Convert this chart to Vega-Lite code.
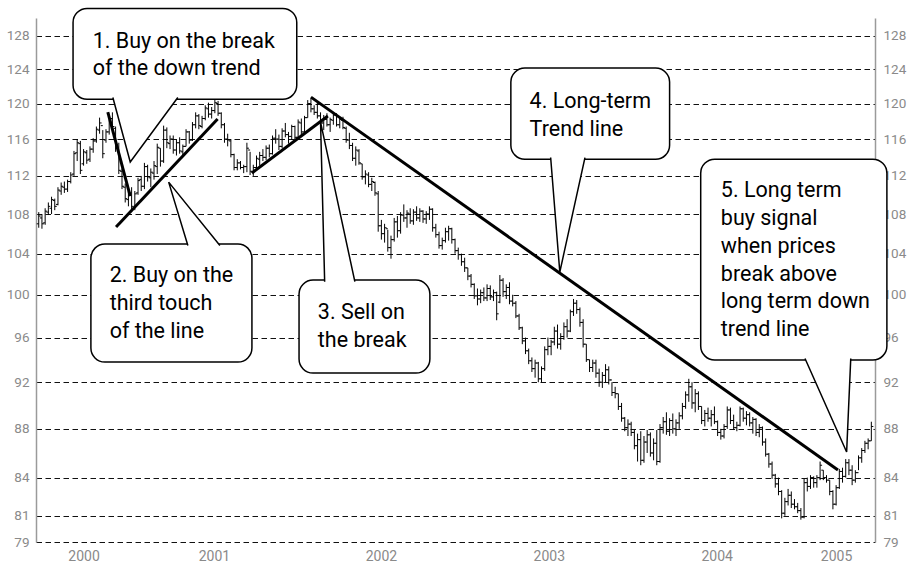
{
  "$schema": "https://vega.github.io/schema/vega-lite/v6.json",
  "width": 839,
  "height": 524,
  "autosize": {"type": "none"},
  "padding": {"left": 36, "top": 18, "right": 32, "bottom": 21},
  "background": "white",
  "config": {
    "view": {"stroke": null},
    "font": "Roboto"
  },
  "datasets": {
    "bars": [
      {"d":"2000-06-09","o":107.0,"h":108.2,"l":106.6,"c":107.8},
      {"d":"2000-06-16","o":107.6,"h":108.0,"l":106.5,"c":107.0},
      {"d":"2000-06-23","o":107.1,"h":108.6,"l":106.9,"c":108.3},
      {"d":"2000-06-30","o":108.2,"h":109.2,"l":107.9,"c":108.8},
      {"d":"2000-07-07","o":108.6,"h":109.8,"l":108.0,"c":109.5},
      {"d":"2000-07-14","o":109.4,"h":109.6,"l":108.4,"c":108.8},
      {"d":"2000-07-21","o":109.0,"h":110.8,"l":108.9,"c":110.5},
      {"d":"2000-07-28","o":110.4,"h":111.3,"l":110.0,"c":110.9},
      {"d":"2000-08-04","o":110.8,"h":111.4,"l":110.2,"c":110.6},
      {"d":"2000-08-11","o":110.6,"h":111.6,"l":110.3,"c":111.4},
      {"d":"2000-08-18","o":111.4,"h":112.4,"l":111.2,"c":112.1},
      {"d":"2000-08-25","o":112.2,"h":114.7,"l":112.0,"c":114.4},
      {"d":"2000-09-01","o":114.5,"h":116.0,"l":113.6,"c":115.6},
      {"d":"2000-09-08","o":115.5,"h":115.8,"l":112.2,"c":112.6},
      {"d":"2000-09-15","o":113.3,"h":114.9,"l":113.1,"c":114.6},
      {"d":"2000-09-22","o":114.5,"h":114.8,"l":113.3,"c":113.7},
      {"d":"2000-09-29","o":113.8,"h":115.2,"l":113.5,"c":114.9},
      {"d":"2000-10-06","o":114.9,"h":116.1,"l":114.5,"c":115.8},
      {"d":"2000-10-13","o":115.8,"h":117.4,"l":115.6,"c":117.1},
      {"d":"2000-10-20","o":117.0,"h":118.4,"l":116.6,"c":117.8},
      {"d":"2000-10-27","o":117.5,"h":117.0,"l":113.9,"c":114.4},
      {"d":"2000-11-03","o":115.9,"h":117.1,"l":115.6,"c":116.8},
      {"d":"2000-11-10","o":116.8,"h":118.7,"l":116.5,"c":118.2},
      {"d":"2000-11-17","o":118.3,"h":119.0,"l":117.0,"c":117.4},
      {"d":"2000-11-24","o":117.2,"h":117.4,"l":114.6,"c":115.0},
      {"d":"2000-12-01","o":115.1,"h":115.6,"l":112.2,"c":112.6},
      {"d":"2000-12-08","o":112.5,"h":112.8,"l":110.6,"c":110.9},
      {"d":"2000-12-15","o":110.8,"h":111.2,"l":109.2,"c":109.6},
      {"d":"2000-12-22","o":109.5,"h":110.4,"l":108.8,"c":110.0},
      {"d":"2000-12-29","o":110.2,"h":110.8,"l":108.2,"c":108.8},
      {"d":"2001-01-05","o":108.6,"h":110.4,"l":108.4,"c":110.1},
      {"d":"2001-01-12","o":110.2,"h":111.8,"l":110.0,"c":111.5},
      {"d":"2001-01-19","o":111.6,"h":112.0,"l":110.4,"c":110.9},
      {"d":"2001-01-26","o":110.9,"h":113.4,"l":110.6,"c":113.0},
      {"d":"2001-02-02","o":113.0,"h":113.2,"l":111.4,"c":111.9},
      {"d":"2001-02-09","o":111.8,"h":112.8,"l":110.8,"c":112.4},
      {"d":"2001-02-16","o":112.3,"h":113.6,"l":111.6,"c":113.1},
      {"d":"2001-02-23","o":113.0,"h":115.5,"l":112.2,"c":115.1},
      {"d":"2001-03-02","o":115.0,"h":115.0,"l":113.0,"c":113.6},
      {"d":"2001-03-09","o":113.6,"h":117.5,"l":113.4,"c":117.0},
      {"d":"2001-03-16","o":117.0,"h":117.3,"l":115.0,"c":115.6},
      {"d":"2001-03-23","o":115.5,"h":116.4,"l":114.9,"c":116.0},
      {"d":"2001-03-30","o":116.0,"h":116.4,"l":114.4,"c":114.8},
      {"d":"2001-04-06","o":114.8,"h":115.9,"l":114.2,"c":115.6},
      {"d":"2001-04-13","o":115.6,"h":116.2,"l":114.4,"c":114.7},
      {"d":"2001-04-20","o":114.6,"h":115.4,"l":114.2,"c":115.2},
      {"d":"2001-04-27","o":115.2,"h":117.1,"l":115.2,"c":116.8},
      {"d":"2001-05-04","o":116.8,"h":116.9,"l":115.5,"c":115.9},
      {"d":"2001-05-11","o":115.9,"h":117.9,"l":115.8,"c":117.6},
      {"d":"2001-05-18","o":117.6,"h":119.0,"l":117.2,"c":118.6},
      {"d":"2001-05-25","o":118.6,"h":118.8,"l":117.1,"c":117.5},
      {"d":"2001-06-01","o":117.4,"h":118.6,"l":117.2,"c":118.3},
      {"d":"2001-06-08","o":118.3,"h":119.8,"l":118.1,"c":119.5},
      {"d":"2001-06-15","o":119.4,"h":120.1,"l":118.4,"c":118.8},
      {"d":"2001-06-22","o":118.8,"h":119.6,"l":118.3,"c":119.2},
      {"d":"2001-06-29","o":119.2,"h":120.5,"l":118.9,"c":120.1},
      {"d":"2001-07-06","o":120.0,"h":120.3,"l":118.6,"c":118.9},
      {"d":"2001-07-13","o":118.9,"h":119.0,"l":117.2,"c":117.6},
      {"d":"2001-07-20","o":117.6,"h":117.8,"l":115.6,"c":116.0},
      {"d":"2001-07-27","o":116.0,"h":116.6,"l":115.2,"c":115.9},
      {"d":"2001-08-03","o":115.8,"h":116.0,"l":114.0,"c":114.3},
      {"d":"2001-08-10","o":114.3,"h":114.4,"l":112.6,"c":112.9},
      {"d":"2001-08-17","o":112.9,"h":113.8,"l":112.6,"c":113.4},
      {"d":"2001-08-24","o":113.4,"h":113.6,"l":112.7,"c":112.9},
      {"d":"2001-08-31","o":112.9,"h":113.2,"l":112.3,"c":113.0},
      {"d":"2001-09-07","o":113.0,"h":115.6,"l":112.4,"c":115.0},
      {"d":"2001-09-14","o":114.8,"h":114.6,"l":112.1,"c":112.5},
      {"d":"2001-09-21","o":112.4,"h":113.2,"l":112.0,"c":112.9},
      {"d":"2001-09-28","o":112.9,"h":114.2,"l":112.8,"c":113.9},
      {"d":"2001-10-05","o":113.8,"h":114.6,"l":113.1,"c":114.2},
      {"d":"2001-10-12","o":114.2,"h":114.9,"l":113.6,"c":114.0},
      {"d":"2001-10-19","o":114.0,"h":115.3,"l":113.7,"c":115.0},
      {"d":"2001-10-26","o":115.0,"h":115.4,"l":114.0,"c":114.4},
      {"d":"2001-11-02","o":114.4,"h":116.4,"l":114.3,"c":116.1},
      {"d":"2001-11-09","o":116.1,"h":117.1,"l":115.5,"c":116.0},
      {"d":"2001-11-16","o":116.0,"h":116.5,"l":114.8,"c":115.2},
      {"d":"2001-11-23","o":115.2,"h":117.2,"l":115.0,"c":116.9},
      {"d":"2001-11-30","o":116.9,"h":117.8,"l":116.2,"c":116.5},
      {"d":"2001-12-07","o":116.5,"h":116.8,"l":115.5,"c":116.3},
      {"d":"2001-12-14","o":116.3,"h":117.6,"l":115.9,"c":117.4},
      {"d":"2001-12-21","o":117.4,"h":117.5,"l":115.8,"c":116.2},
      {"d":"2001-12-28","o":116.2,"h":118.2,"l":116.1,"c":117.9},
      {"d":"2002-01-04","o":117.8,"h":118.3,"l":116.4,"c":116.8},
      {"d":"2002-01-11","o":116.8,"h":118.6,"l":116.6,"c":118.4},
      {"d":"2002-01-18","o":118.4,"h":120.4,"l":118.4,"c":120.0},
      {"d":"2002-01-25","o":120.0,"h":120.6,"l":119.0,"c":119.4},
      {"d":"2002-02-01","o":119.4,"h":119.8,"l":118.7,"c":119.0},
      {"d":"2002-02-08","o":119.0,"h":120.1,"l":118.3,"c":118.6},
      {"d":"2002-02-15","o":118.6,"h":119.0,"l":117.5,"c":117.8},
      {"d":"2002-02-22","o":117.8,"h":118.7,"l":117.0,"c":118.3},
      {"d":"2002-03-01","o":118.2,"h":118.9,"l":117.4,"c":117.6},
      {"d":"2002-03-08","o":117.6,"h":118.4,"l":116.8,"c":118.2},
      {"d":"2002-03-15","o":118.1,"h":119.0,"l":117.6,"c":118.7},
      {"d":"2002-03-22","o":118.7,"h":118.9,"l":117.4,"c":117.6},
      {"d":"2002-03-29","o":117.6,"h":118.4,"l":117.2,"c":118.2},
      {"d":"2002-04-05","o":118.1,"h":118.5,"l":117.1,"c":117.3},
      {"d":"2002-04-12","o":117.2,"h":117.4,"l":115.6,"c":115.9},
      {"d":"2002-04-19","o":115.9,"h":116.7,"l":114.9,"c":115.3},
      {"d":"2002-04-26","o":115.3,"h":115.6,"l":113.6,"c":113.9},
      {"d":"2002-05-03","o":113.9,"h":115.2,"l":113.1,"c":114.8},
      {"d":"2002-05-10","o":114.7,"h":114.9,"l":113.2,"c":113.4},
      {"d":"2002-05-17","o":113.3,"h":113.3,"l":111.6,"c":111.9},
      {"d":"2002-05-24","o":111.9,"h":112.6,"l":111.1,"c":112.2},
      {"d":"2002-05-31","o":112.1,"h":112.4,"l":110.8,"c":111.1},
      {"d":"2002-06-07","o":111.1,"h":111.8,"l":110.4,"c":111.4},
      {"d":"2002-06-14","o":111.3,"h":111.4,"l":109.9,"c":110.2},
      {"d":"2002-06-21","o":110.1,"h":110.4,"l":106.2,"c":106.8},
      {"d":"2002-06-28","o":106.8,"h":107.4,"l":105.4,"c":106.0},
      {"d":"2002-07-05","o":106.0,"h":107.0,"l":105.1,"c":106.6},
      {"d":"2002-07-12","o":106.5,"h":106.4,"l":104.2,"c":104.6},
      {"d":"2002-07-19","o":104.6,"h":105.8,"l":103.5,"c":105.4},
      {"d":"2002-07-26","o":105.4,"h":107.6,"l":105.2,"c":107.2},
      {"d":"2002-08-02","o":107.2,"h":107.8,"l":105.6,"c":106.3},
      {"d":"2002-08-09","o":106.3,"h":108.2,"l":106.0,"c":107.9},
      {"d":"2002-08-16","o":107.9,"h":109.0,"l":107.2,"c":107.6},
      {"d":"2002-08-23","o":107.6,"h":108.4,"l":106.6,"c":108.1},
      {"d":"2002-08-30","o":108.0,"h":108.6,"l":107.0,"c":107.3},
      {"d":"2002-09-06","o":107.3,"h":108.5,"l":106.9,"c":108.2},
      {"d":"2002-09-13","o":108.2,"h":108.8,"l":107.3,"c":107.6},
      {"d":"2002-09-20","o":107.6,"h":108.6,"l":107.2,"c":108.3},
      {"d":"2002-09-27","o":108.3,"h":108.4,"l":107.1,"c":107.5},
      {"d":"2002-10-04","o":107.5,"h":108.3,"l":107.0,"c":108.0},
      {"d":"2002-10-11","o":108.0,"h":108.8,"l":107.4,"c":108.5},
      {"d":"2002-10-18","o":108.5,"h":108.6,"l":106.2,"c":106.6},
      {"d":"2002-10-25","o":106.6,"h":107.0,"l":105.6,"c":105.9},
      {"d":"2002-11-01","o":105.9,"h":106.2,"l":104.5,"c":104.8},
      {"d":"2002-11-08","o":104.8,"h":105.6,"l":104.4,"c":105.3},
      {"d":"2002-11-15","o":105.3,"h":106.6,"l":105.1,"c":106.2},
      {"d":"2002-11-22","o":106.2,"h":106.8,"l":105.3,"c":106.5},
      {"d":"2002-11-29","o":106.5,"h":106.6,"l":105.0,"c":105.4},
      {"d":"2002-12-06","o":105.4,"h":105.5,"l":104.0,"c":104.3},
      {"d":"2002-12-13","o":104.3,"h":104.6,"l":103.4,"c":103.9},
      {"d":"2002-12-20","o":103.9,"h":104.0,"l":102.8,"c":103.2},
      {"d":"2002-12-27","o":103.2,"h":103.6,"l":102.2,"c":102.6},
      {"d":"2003-01-03","o":102.6,"h":102.6,"l":101.4,"c":101.8},
      {"d":"2003-01-10","o":101.8,"h":102.0,"l":100.7,"c":101.0},
      {"d":"2003-01-17","o":101.0,"h":101.1,"l":99.6,"c":99.9},
      {"d":"2003-01-24","o":99.9,"h":100.6,"l":99.0,"c":99.6},
      {"d":"2003-01-31","o":99.6,"h":100.5,"l":99.2,"c":100.2},
      {"d":"2003-02-07","o":100.2,"h":100.7,"l":99.4,"c":99.7},
      {"d":"2003-02-14","o":99.7,"h":101.0,"l":99.4,"c":100.6},
      {"d":"2003-02-21","o":100.6,"h":100.9,"l":99.5,"c":99.8},
      {"d":"2003-02-28","o":99.8,"h":100.5,"l":99.4,"c":100.2},
      {"d":"2003-03-07","o":100.2,"h":100.3,"l":97.6,"c":98.2},
      {"d":"2003-03-14","o":99.3,"h":101.9,"l":99.2,"c":101.4},
      {"d":"2003-03-21","o":101.4,"h":101.6,"l":99.8,"c":100.3},
      {"d":"2003-03-28","o":100.3,"h":101.0,"l":99.6,"c":100.7},
      {"d":"2003-04-04","o":100.7,"h":101.2,"l":99.1,"c":99.4},
      {"d":"2003-04-11","o":99.4,"h":100.0,"l":98.9,"c":99.2},
      {"d":"2003-04-18","o":99.2,"h":99.4,"l":97.8,"c":98.0},
      {"d":"2003-04-25","o":98.0,"h":98.2,"l":96.7,"c":96.9},
      {"d":"2003-05-02","o":96.9,"h":97.0,"l":95.4,"c":95.7},
      {"d":"2003-05-09","o":95.7,"h":96.0,"l":94.5,"c":94.8},
      {"d":"2003-05-16","o":94.8,"h":95.0,"l":93.6,"c":93.9},
      {"d":"2003-05-23","o":93.9,"h":94.2,"l":92.9,"c":93.2},
      {"d":"2003-05-30","o":93.2,"h":94.0,"l":92.4,"c":93.7},
      {"d":"2003-06-06","o":93.7,"h":93.8,"l":92.0,"c":92.3},
      {"d":"2003-06-13","o":92.3,"h":93.4,"l":92.0,"c":93.2},
      {"d":"2003-06-20","o":93.2,"h":95.2,"l":93.0,"c":94.9},
      {"d":"2003-06-27","o":94.9,"h":96.0,"l":94.4,"c":95.2},
      {"d":"2003-07-04","o":95.2,"h":95.8,"l":94.4,"c":95.6},
      {"d":"2003-07-11","o":95.6,"h":97.0,"l":95.3,"c":96.6},
      {"d":"2003-07-18","o":96.6,"h":97.2,"l":95.0,"c":95.4},
      {"d":"2003-07-25","o":95.4,"h":96.4,"l":94.9,"c":96.1},
      {"d":"2003-08-01","o":96.1,"h":97.4,"l":95.8,"c":97.0},
      {"d":"2003-08-08","o":97.0,"h":97.7,"l":96.0,"c":96.6},
      {"d":"2003-08-15","o":96.6,"h":98.6,"l":96.5,"c":98.4},
      {"d":"2003-08-22","o":98.4,"h":99.6,"l":98.0,"c":99.2},
      {"d":"2003-08-29","o":99.2,"h":99.5,"l":98.2,"c":98.6},
      {"d":"2003-09-05","o":98.6,"h":98.8,"l":97.0,"c":97.4},
      {"d":"2003-09-12","o":97.4,"h":97.7,"l":95.1,"c":95.4},
      {"d":"2003-09-19","o":95.4,"h":95.4,"l":93.8,"c":94.0},
      {"d":"2003-09-26","o":94.0,"h":94.0,"l":92.9,"c":93.3},
      {"d":"2003-10-03","o":93.3,"h":94.0,"l":92.9,"c":93.7},
      {"d":"2003-10-10","o":93.7,"h":94.0,"l":92.4,"c":92.8},
      {"d":"2003-10-17","o":92.8,"h":93.2,"l":91.6,"c":92.0},
      {"d":"2003-10-24","o":92.0,"h":92.9,"l":91.5,"c":92.6},
      {"d":"2003-10-31","o":92.6,"h":93.6,"l":92.0,"c":93.1},
      {"d":"2003-11-07","o":93.1,"h":93.4,"l":91.8,"c":92.2},
      {"d":"2003-11-14","o":92.2,"h":92.0,"l":90.8,"c":91.1},
      {"d":"2003-11-21","o":91.1,"h":91.6,"l":90.6,"c":91.0},
      {"d":"2003-11-28","o":91.0,"h":91.0,"l":89.6,"c":89.9},
      {"d":"2003-12-05","o":89.9,"h":90.2,"l":88.6,"c":88.9},
      {"d":"2003-12-12","o":88.9,"h":89.0,"l":87.8,"c":88.1},
      {"d":"2003-12-19","o":88.1,"h":88.8,"l":87.4,"c":88.4},
      {"d":"2003-12-26","o":88.4,"h":88.6,"l":87.4,"c":87.7},
      {"d":"2004-01-02","o":87.7,"h":87.9,"l":86.3,"c":86.6},
      {"d":"2004-01-09","o":86.6,"h":87.6,"l":85.3,"c":87.1},
      {"d":"2004-01-16","o":87.1,"h":87.8,"l":85.0,"c":85.4},
      {"d":"2004-01-23","o":85.4,"h":87.4,"l":85.2,"c":86.9},
      {"d":"2004-01-30","o":86.9,"h":87.9,"l":86.0,"c":87.5},
      {"d":"2004-02-06","o":87.5,"h":87.7,"l":85.7,"c":86.0},
      {"d":"2004-02-13","o":86.0,"h":87.2,"l":85.4,"c":86.8},
      {"d":"2004-02-20","o":86.8,"h":87.9,"l":85.0,"c":85.3},
      {"d":"2004-02-27","o":85.3,"h":88.4,"l":85.2,"c":88.1},
      {"d":"2004-03-05","o":88.1,"h":89.0,"l":87.6,"c":88.6},
      {"d":"2004-03-12","o":88.6,"h":89.4,"l":87.5,"c":87.8},
      {"d":"2004-03-19","o":87.8,"h":88.9,"l":87.4,"c":88.7},
      {"d":"2004-03-26","o":88.7,"h":89.3,"l":87.6,"c":88.0},
      {"d":"2004-04-02","o":88.0,"h":88.8,"l":87.4,"c":88.5},
      {"d":"2004-04-09","o":88.5,"h":89.4,"l":88.0,"c":89.1},
      {"d":"2004-04-16","o":89.1,"h":90.2,"l":88.8,"c":89.9},
      {"d":"2004-04-23","o":89.9,"h":91.2,"l":89.7,"c":90.9},
      {"d":"2004-04-30","o":90.9,"h":92.3,"l":90.3,"c":91.6},
      {"d":"2004-05-07","o":91.6,"h":92.0,"l":89.7,"c":90.2},
      {"d":"2004-05-14","o":90.2,"h":91.4,"l":89.4,"c":91.0},
      {"d":"2004-05-21","o":91.0,"h":91.2,"l":89.6,"c":89.9},
      {"d":"2004-05-28","o":89.9,"h":89.9,"l":88.4,"c":88.7},
      {"d":"2004-06-04","o":88.7,"h":89.6,"l":88.2,"c":89.3},
      {"d":"2004-06-11","o":89.3,"h":89.8,"l":88.6,"c":88.9},
      {"d":"2004-06-18","o":88.9,"h":89.6,"l":88.2,"c":89.2},
      {"d":"2004-06-25","o":89.2,"h":89.9,"l":88.4,"c":88.6},
      {"d":"2004-07-02","o":88.6,"h":88.7,"l":87.4,"c":87.7},
      {"d":"2004-07-09","o":87.7,"h":88.0,"l":87.1,"c":87.4},
      {"d":"2004-07-16","o":87.4,"h":88.4,"l":87.2,"c":88.2},
      {"d":"2004-07-23","o":88.2,"h":89.9,"l":88.0,"c":89.6},
      {"d":"2004-07-30","o":89.6,"h":89.8,"l":88.4,"c":88.7},
      {"d":"2004-08-06","o":88.7,"h":89.2,"l":87.9,"c":88.1},
      {"d":"2004-08-13","o":88.1,"h":88.6,"l":87.8,"c":88.3},
      {"d":"2004-08-20","o":88.3,"h":89.9,"l":88.2,"c":89.7},
      {"d":"2004-08-27","o":89.7,"h":89.8,"l":88.6,"c":88.9},
      {"d":"2004-09-03","o":88.9,"h":89.5,"l":88.3,"c":89.2},
      {"d":"2004-09-10","o":89.2,"h":89.4,"l":88.2,"c":88.5},
      {"d":"2004-09-17","o":88.5,"h":89.0,"l":87.6,"c":88.8},
      {"d":"2004-09-24","o":88.8,"h":88.9,"l":87.4,"c":87.7},
      {"d":"2004-10-01","o":87.7,"h":88.4,"l":87.3,"c":88.1},
      {"d":"2004-10-08","o":88.1,"h":88.2,"l":86.6,"c":86.9},
      {"d":"2004-10-15","o":86.9,"h":87.2,"l":85.7,"c":85.9},
      {"d":"2004-10-22","o":85.9,"h":86.0,"l":84.8,"c":85.1},
      {"d":"2004-10-29","o":85.1,"h":85.3,"l":83.9,"c":84.2},
      {"d":"2004-11-05","o":84.2,"h":84.3,"l":83.2,"c":83.5},
      {"d":"2004-11-12","o":83.5,"h":84.0,"l":82.6,"c":82.9},
      {"d":"2004-11-19","o":82.9,"h":83.0,"l":80.8,"c":81.2},
      {"d":"2004-11-26","o":81.2,"h":82.4,"l":81.0,"c":82.1},
      {"d":"2004-12-03","o":82.1,"h":83.1,"l":81.8,"c":82.6},
      {"d":"2004-12-10","o":82.6,"h":82.9,"l":81.6,"c":81.9},
      {"d":"2004-12-17","o":81.9,"h":82.3,"l":81.5,"c":81.7},
      {"d":"2004-12-24","o":81.7,"h":82.0,"l":81.2,"c":81.4},
      {"d":"2004-12-31","o":81.4,"h":81.6,"l":80.7,"c":80.9},
      {"d":"2005-01-07","o":80.9,"h":83.9,"l":80.8,"c":83.6},
      {"d":"2005-01-14","o":83.6,"h":84.0,"l":82.9,"c":83.3},
      {"d":"2005-01-21","o":83.3,"h":84.2,"l":83.1,"c":84.0},
      {"d":"2005-01-28","o":84.0,"h":84.1,"l":83.2,"c":83.6},
      {"d":"2005-02-04","o":83.6,"h":84.2,"l":83.2,"c":84.0},
      {"d":"2005-02-11","o":84.0,"h":85.3,"l":83.8,"c":85.0},
      {"d":"2005-02-18","o":84.6,"h":84.6,"l":83.8,"c":84.0},
      {"d":"2005-02-25","o":84.0,"h":84.2,"l":83.6,"c":83.8},
      {"d":"2005-03-04","o":83.8,"h":83.8,"l":82.6,"c":82.9},
      {"d":"2005-03-11","o":82.9,"h":83.0,"l":81.5,"c":81.9},
      {"d":"2005-03-18","o":81.9,"h":83.4,"l":81.8,"c":83.2},
      {"d":"2005-03-25","o":83.2,"h":84.7,"l":83.1,"c":84.5},
      {"d":"2005-04-01","o":84.5,"h":84.8,"l":83.6,"c":84.1},
      {"d":"2005-04-08","o":84.1,"h":85.5,"l":84.0,"c":85.2},
      {"d":"2005-04-15","o":85.2,"h":85.5,"l":84.2,"c":84.6},
      {"d":"2005-04-22","o":84.6,"h":85.0,"l":83.4,"c":83.8},
      {"d":"2005-04-29","o":83.8,"h":84.6,"l":83.6,"c":84.4},
      {"d":"2005-05-06","o":84.4,"h":85.8,"l":84.6,"c":85.6},
      {"d":"2005-05-13","o":85.6,"h":86.4,"l":85.2,"c":86.2},
      {"d":"2005-05-20","o":86.2,"h":87.0,"l":86.0,"c":86.8},
      {"d":"2005-05-27","o":86.8,"h":87.2,"l":86.3,"c":87.0},
      {"d":"2005-06-03","o":87.0,"h":88.6,"l":87.0,"c":88.2}
    ],
    "trends": [
      {"id":1,"d":"2000-11-07","p":119.03},{"id":1,"d":"2000-12-26","p":109.87},
      {"id":2,"d":"2000-11-25","p":106.67},{"id":2,"d":"2001-07-05","p":118.24},
      {"id":3,"d":"2001-09-18","p":112.31},{"id":3,"d":"2002-03-03","p":118.58},
      {"id":4,"d":"2002-01-25","p":120.74},{"id":4,"d":"2005-03-22","p":84.62}
    ],
    "boxes": [
      {"id":1,"d1":"2000-08-23","d2":"2001-12-25","p1":131.4,"p2":120.5},
      {"id":2,"d1":"2000-10-01","d2":"2001-09-18","p1":104.96,"p2":93.79},
      {"id":3,"d1":"2001-12-30","d2":"2002-10-12","p1":101.41,"p2":92.81},
      {"id":4,"d1":"2003-04-07","d2":"2004-03-19","p1":124.13,"p2":113.8},
      {"id":5,"d1":"2004-05-26","d2":"2005-07-07","p1":113.8,"p2":93.97}
    ],
    "tails": [
      {"id":1,"k":1,"d":"2000-11-18","p":120.69},{"id":1,"k":2,"d":"2000-12-26","p":113.5},{"id":1,"k":3,"d":"2001-04-09","p":120.69},
      {"id":2,"k":1,"d":"2001-05-01","p":104.81},{"id":2,"k":2,"d":"2001-03-20","p":111.34},{"id":2,"k":3,"d":"2001-07-10","p":104.81},
      {"id":3,"k":1,"d":"2002-02-24","p":101.26},{"id":3,"k":2,"d":"2002-02-15","p":117.9},{"id":3,"k":3,"d":"2002-05-01","p":101.26},
      {"id":4,"k":1,"d":"2003-07-03","p":113.98},{"id":4,"k":2,"d":"2003-07-23","p":102.19},{"id":4,"k":3,"d":"2003-09-16","p":113.98},
      {"id":5,"k":1,"d":"2005-01-09","p":94.1},{"id":5,"k":2,"d":"2005-04-10","p":86.08},{"id":5,"k":3,"d":"2005-04-19","p":94.1}
    ],
    "notes": [
      {"d":"2000-10-05","p":126.52,"t":"1. Buy on the break"},
      {"d":"2000-10-05","p":123.30,"t":"of the down trend"},
      {"d":"2000-11-11","p":101.22,"t":"2. Buy on the"},
      {"d":"2000-11-11","p":98.55,"t":"third touch"},
      {"d":"2000-11-11","p":95.96,"t":"of the line"},
      {"d":"2002-02-09","p":97.71,"t":"3. Sell on"},
      {"d":"2002-02-09","p":95.14,"t":"the break"},
      {"d":"2003-05-18","p":119.48,"t":"4. Long-term"},
      {"d":"2003-05-18","p":116.34,"t":"Trend line"},
      {"d":"2004-07-09","p":109.76,"t":"5. Long term"},
      {"d":"2004-07-09","p":106.87,"t":"buy signal"},
      {"d":"2004-07-09","p":104.06,"t":"when prices"},
      {"d":"2004-07-09","p":101.32,"t":"break above"},
      {"d":"2004-07-09","p":98.74,"t":"long term down"},
      {"d":"2004-07-09","p":96.14,"t":"trend line"}
    ],
    "years": [
      {"d":"2000-09-16","t":"2000"},
      {"d":"2001-06-28","t":"2001"},
      {"d":"2002-06-28","t":"2002"},
      {"d":"2003-06-30","t":"2003"},
      {"d":"2004-07-01","t":"2004"},
      {"d":"2005-03-19","t":"2005"}
    ]
  },
  "resolve": {"axis": {"y": "independent"}},
  "layer": [
    {
      "data": {"name": "bars"},
      "mark": {"type": "rule", "color": "black", "strokeWidth": 1},
      "encoding": {
        "x": {
          "field": "d", "type": "temporal",
          "scale": {"type": "utc", "domain": [{"year":2000,"month":6,"date":3,"utc":true},{"year":2005,"month":6,"date":11,"utc":true}]},
          "axis": {
            "title": null, "orient": "bottom", "domain": false, "grid": false, "labels": false,
            "ticks": true, "tickSize": 21, "tickColor": "#9a9a9a", "tickWidth": 1.5,
            "values": [
              {"year":2000,"month":6,"date":3,"utc":true},
              {"year":2001,"month":1,"date":1,"utc":true},
              {"year":2002,"month":1,"date":1,"utc":true},
              {"year":2003,"month":1,"date":1,"utc":true},
              {"year":2004,"month":1,"date":1,"utc":true},
              {"year":2005,"month":1,"date":1,"utc":true},
              {"year":2005,"month":6,"date":6,"utc":true}
            ]
          }
        },
        "y": {
          "field": "l", "type": "quantitative",
          "scale": {"type": "log", "domain": [79, 130.2], "nice": false, "zero": false},
          "axis": {
            "orient": "left", "title": null, "values": [79,81,84,88,92,96,100,104,108,112,116,120,124,128],
            "format": "d", "ticks": false, "labelPadding": 7, "labelColor": "#8a8a8a",
            "labelFontSize": 13.5, "labelFont": "Roboto",
            "domainColor": "#9a9a9a", "domainWidth": 1.5,
            "grid": true, "gridColor": "#111111", "gridDash": [5.5, 3.5], "gridWidth": 1
          }
        },
        "y2": {"field": "h"}
      }
    },
    {
      "data": {"name": "bars"},
      "mark": {"type": "tick", "orient": "horizontal", "size": 2, "thickness": 1, "xOffset": -1, "color": "black", "opacity": 1},
      "encoding": {
        "x": {"field": "d", "type": "temporal", "axis": null},
        "y": {
          "field": "o", "type": "quantitative",
          "axis": {
            "orient": "right", "title": null, "values": [79,81,84,88,92,96,100,104,108,112,116,120,124,128],
            "format": "d", "ticks": false, "labelPadding": 8, "labelColor": "#8a8a8a",
            "labelFontSize": 13.5, "labelFont": "Roboto",
            "domainColor": "#9a9a9a", "domainWidth": 1.5, "grid": false
          }
        }
      }
    },
    {
      "data": {"name": "bars"},
      "mark": {"type": "tick", "orient": "horizontal", "size": 2, "thickness": 1, "xOffset": 1, "color": "black", "opacity": 1},
      "encoding": {
        "x": {"field": "d", "type": "temporal", "axis": null},
        "y": {"field": "c", "type": "quantitative", "axis": null}
      }
    },
    {
      "data": {"name": "trends"},
      "mark": {"type": "line", "color": "black", "strokeWidth": 3, "strokeCap": "butt"},
      "encoding": {
        "x": {"field": "d", "type": "temporal", "axis": null},
        "y": {"field": "p", "type": "quantitative", "axis": null},
        "detail": {"field": "id"}
      }
    },
    {
      "data": {"name": "boxes"},
      "mark": {"type": "rect", "fill": "white", "stroke": "black", "strokeWidth": 1.5, "cornerRadius": 14},
      "encoding": {
        "x": {"field": "d1", "type": "temporal", "axis": null},
        "x2": {"field": "d2"},
        "y": {"field": "p1", "type": "quantitative", "axis": null},
        "y2": {"field": "p2"}
      }
    },
    {
      "data": {"name": "tails"},
      "mark": {"type": "line", "fill": "white", "stroke": "black", "strokeWidth": 1.5, "strokeJoin": "miter"},
      "encoding": {
        "x": {"field": "d", "type": "temporal", "axis": null},
        "y": {"field": "p", "type": "quantitative", "axis": null},
        "detail": {"field": "id"},
        "order": {"field": "k"}
      }
    },
    {
      "data": {"name": "notes"},
      "mark": {"type": "text", "align": "left", "baseline": "alphabetic", "fontSize": 21.5, "color": "black", "font": "Roboto"},
      "encoding": {
        "x": {"field": "d", "type": "temporal", "axis": null},
        "y": {"field": "p", "type": "quantitative", "axis": null},
        "text": {"field": "t"}
      }
    },
    {
      "data": {"name": "years"},
      "mark": {"type": "text", "align": "center", "baseline": "middle", "dy": 15, "fontSize": 14, "color": "#8a8a8a", "font": "Roboto"},
      "encoding": {
        "x": {"field": "d", "type": "temporal", "axis": null},
        "y": {"datum": 79, "type": "quantitative", "axis": null},
        "text": {"field": "t"}
      }
    }
  ]
}
